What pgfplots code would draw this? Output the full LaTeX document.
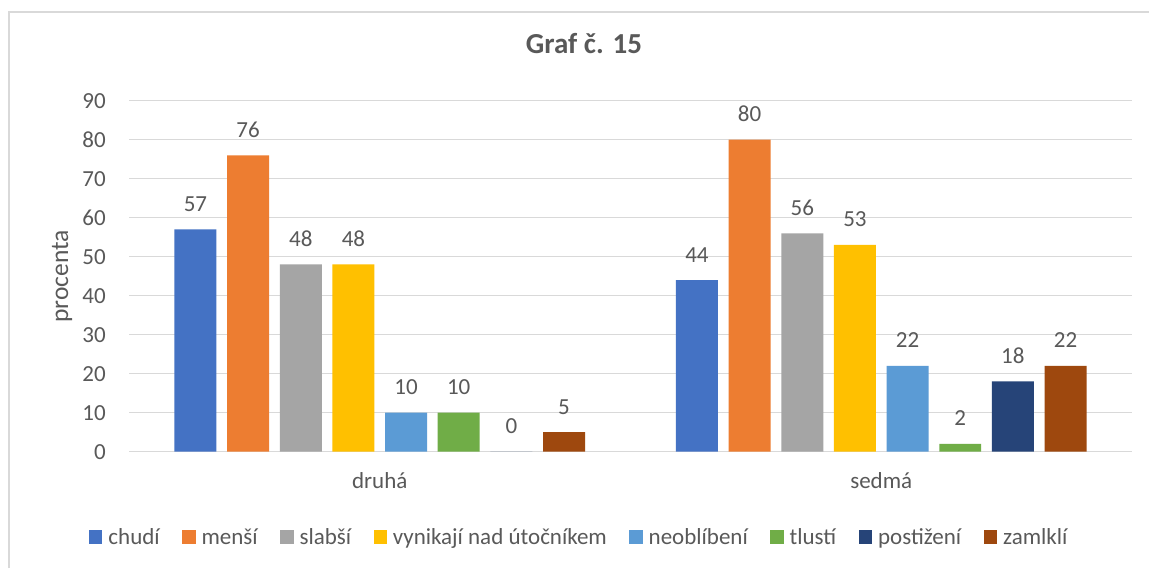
\documentclass[border=0pt]{standalone}
\usepackage{pgfplots}
\pgfplotsset{compat=1.18}
\usepackage{fontspec}
\setmainfont{Carlito}
\definecolor{cBlue}{HTML}{4472C4}
\definecolor{cOrange}{HTML}{ED7D31}
\definecolor{cGray}{HTML}{A5A5A5}
\definecolor{cGold}{HTML}{FFC000}
\definecolor{cLBlue}{HTML}{5B9BD5}
\definecolor{cGreen}{HTML}{70AD47}
\definecolor{cDBlue}{HTML}{264478}
\definecolor{cBrown}{HTML}{9E480E}
\definecolor{txt}{HTML}{595959}
\definecolor{cGrid}{HTML}{D9D9D9}
\begin{document}
\begin{tikzpicture}
\useasboundingbox (0pt,0pt) rectangle (1149pt,568pt);
\fill[white] (0pt,0pt) rectangle (1149pt,568pt);
\draw[cGrid, line width=2pt] (8.5pt,0pt) -- (8.5pt,556pt) -- (1149pt,556pt);
\begin{axis}[
  at={(129pt,116.3pt)}, anchor=south west,
  scale only axis, width=1003pt, height=351pt,
  xmin=-0.5, xmax=1.5, ymin=0, ymax=90,
  ytick={0,10,...,90},
  xtick={0,1}, xticklabels={druhá,sedmá},
  xmajorgrids=false, ymajorgrids=true,
  grid style={cGrid, line width=1.5pt},
  axis line style={draw=none},
  major tick length=0pt,
  /pgf/number format/assume math mode=true,
  font=\fontsize{23}{27}\selectfont\color{txt},
  yticklabel style={anchor=east, inner sep=0pt, xshift=-23pt},
  xticklabel style={anchor=base, inner sep=0pt, yshift=-37pt},
  ylabel={procenta},
  ylabel style={at={(axis description cs:-0.0668,0.5)}, anchor=center, inner sep=0pt, font=\fontsize{25.5}{30}\selectfont\color{txt}},
  title={\bfseries Graf č. 15},
  title style={at={(axis description cs:0.4536,1.116)}, anchor=base, inner sep=0pt, font=\fontsize{29}{34}\selectfont\color{txt}},
  ybar, bar width=0.0837,
  nodes near coords,
  nodes near coords style={anchor=base, inner sep=0pt, yshift=18pt, font=\fontsize{23}{27}\selectfont\color{txt}},
  legend columns=-1,
  legend image code/.code={\fill[#1] (0pt,-6.65pt) rectangle (13.3pt,6.65pt);},
  legend style={draw=none, fill=none, at={(axis description cs:-0.0399,-0.243)}, anchor=west,
    inner xsep=0pt, inner ysep=0pt,
    nodes={inner sep=0pt, text=txt},
    /tikz/every odd column/.append style={column sep=6pt},
    /tikz/every even column/.append style={column sep=22.5pt},
    font=\fontsize{23}{27}\selectfont},
]
\addplot[fill=cBlue, draw=none, bar shift=-0.3675] coordinates {(0,57) (1,44)};
\addplot[fill=cOrange, draw=none, bar shift=-0.2625] coordinates {(0,76) (1,80)};
\addplot[fill=cGray, draw=none, bar shift=-0.1575] coordinates {(0,48) (1,56)};
\addplot[fill=cGold, draw=none, bar shift=-0.0525] coordinates {(0,48) (1,53)};
\addplot[fill=cLBlue, draw=none, bar shift=0.0525] coordinates {(0,10) (1,22)};
\addplot[fill=cGreen, draw=none, bar shift=0.1575] coordinates {(0,10) (1,2)};
\addplot[fill=cDBlue, draw=none, bar shift=0.2625] coordinates {(0,0) (1,18)};
\addplot[fill=cBrown, draw=none, bar shift=0.3675] coordinates {(0,5) (1,22)};
\legend{chudí,menší,slabší,vynikají nad útočníkem,neoblíbení,tlustí,postižení,zamlklí}
\end{axis}
\end{tikzpicture}
\end{document}
